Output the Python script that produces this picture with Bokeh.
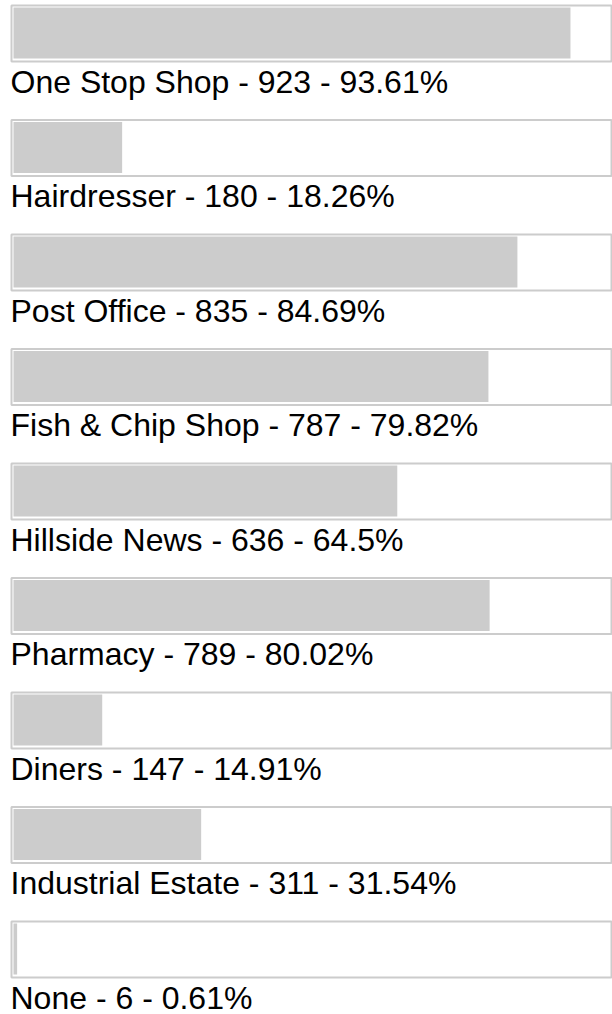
from bokeh.plotting import figure
from bokeh.models import Range1d, ColumnDataSource
from bokeh.core.properties import value
from bokeh.embed import file_html
from bokeh.resources import INLINE

# ---- data ----
names = ["One Stop Shop", "Hairdresser", "Post Office", "Fish & Chip Shop",
         "Hillside News", "Pharmacy", "Diners", "Industrial Estate", "None"]
counts = [923, 180, 835, 787, 636, 789, 147, 311, 6]
percents = [93.61, 18.26, 84.69, 79.82, 64.5, 80.02, 14.91, 31.54, 0.61]

# ---- layout constants (pixels) ----
W, H = 612, 1014
ROW = 114.5
PX_PER_PCT = 5.95
BAR_X0 = 13          # pixel position of 0% within figure
labels = [f"{n} - {c} - {p}%" for n, c, p in zip(names, counts, percents)]
rows = list(range(len(names)))
row_top = [i * ROW for i in rows]

src = ColumnDataSource(dict(
    label=labels,
    pct=percents,
    track_left=[-2 / PX_PER_PCT] * len(rows),
    track_right=[100 + 3 / PX_PER_PCT] * len(rows),
    zero=[0] * len(rows),
    box_top=[t + 5 for t in row_top],
    box_bot=[t + 61 for t in row_top],
    bar_top=[t + 7 for t in row_top],
    bar_bot=[t + 58 for t in row_top],
    base=[t + 81 for t in row_top],
))

x0 = -BAR_X0 / PX_PER_PCT
p = figure(width=W, height=H, output_backend="svg", toolbar_location=None,
           x_range=Range1d(x0, x0 + W / PX_PER_PCT), y_range=Range1d(H, 0),
           min_border=0)
p.axis.visible = False
p.grid.visible = False
p.outline_line_color = None
p.background_fill_color = "white"
p.border_fill_color = "white"

p.quad(left="track_left", right="track_right", top="box_top", bottom="box_bot",
       source=src, fill_color="white", line_color="#cccccc", line_width=2)
p.quad(left="zero", right="pct", top="bar_top", bottom="bar_bot",
       source=src, fill_color="#cccccc", line_color=None)
p.text(x="zero", y="base", text="label", source=src, x_offset=-3,
       text_font=value("Liberation Sans"), text_font_size="32px",
       text_color="black", text_baseline="alphabetic", text_align="left")

open("out.html", "w").write(file_html(p, INLINE))
